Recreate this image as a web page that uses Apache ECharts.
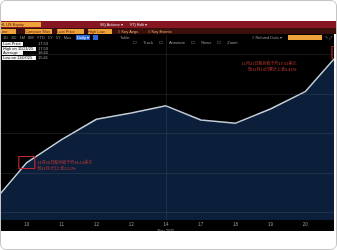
<!DOCTYPE html>
<html><head><meta charset="utf-8">
<script src="https://cdn.jsdelivr.net/npm/echarts@6/dist/echarts.min.js"></script>
<style>
html,body{margin:0;padding:0;background:#fff;width:337px;height:250px;overflow:hidden;font-family:"Liberation Sans",Arial,sans-serif;}
.a{position:absolute;white-space:nowrap;line-height:1;}
#wrap{position:absolute;left:0;top:0;width:334px;height:231px;overflow:hidden;}
#chart{width:337px;height:250px;}
.ob{background:#eda23a;color:#5a1a10;font-size:4px;padding-top:1px;box-sizing:border-box;height:5px;}
.wt{color:#e8e0e0;font-size:4px;}
.gt{color:#9a9a9a;font-size:4px;}
.lg{background:#f2f2f2;color:#111;font-size:4px;height:4px;padding-left:1px;box-sizing:border-box;}
.lv{color:#a8a8a8;font-size:4px;}
#frame{position:absolute;left:0;top:0;width:337px;height:250px;border:1px solid #c4c4c4;border-radius:6px;box-sizing:border-box;pointer-events:none;}
</style></head>
<body>
<div id="wrap"><div id="chart"></div></div>

<div class="a" style="left:0;top:0;width:337px;height:21px;background:#fff;"></div>
<div class="a" style="left:0;top:21px;width:337px;height:7px;background:#861622;"></div>
<div class="a" style="left:0;top:28px;width:337px;height:6px;background:#3a0f0c;"></div>
<div class="a ob" style="left:0;top:22px;width:41px;">HL US Equity</div>
<div class="a wt" style="left:100px;top:23px;">96) Actions ▾</div>
<div class="a wt" style="left:130px;top:23px;">97) Edit ▾</div>

<div class="a ob" style="left:0;top:29px;width:16px;">Line</div>
<div class="a ob" style="left:25px;top:29px;width:27px;">Compare Mov</div>
<div class="a ob" style="left:57px;top:29px;width:27px;">Last Price</div>
<div class="a ob" style="left:88px;top:29px;width:24px;">High Low</div>
<div class="a wt" style="left:118px;top:30px;color:#e0b070;">≡ Key Avgs</div>
<div class="a wt" style="left:148px;top:30px;color:#e0b070;">≡ Key Events</div>

<div class="a gt" style="left:3px;top:35.5px;word-spacing:2px;">1D 3D 1M 6M YTD 1Y 5Y Max</div>
<div class="a" style="left:76px;top:35px;width:14px;height:5px;background:#2f6bd8;color:#fff;font-size:4px;padding:1px 0 0 1px;box-sizing:border-box;">Daily ▾</div>
<div class="a" style="left:93px;top:35px;width:5px;height:5px;background:#2f6bd8;"></div>
<div class="a gt" style="left:120px;top:35.5px;">Table</div>
<div class="a gt" style="left:252px;top:35.5px;">≡ Related Data ▾</div>
<div class="a" style="left:288px;top:35px;width:34px;height:5px;background:#eda23a;"></div>
<div class="a gt" style="left:325px;top:35.5px;">✎ ⤢</div>
<div class="a gt" style="left:133px;top:41px;word-spacing:5px;">☐ Track ☐ Annotate ☐ News ☐ Zoom</div>

<div class="a lg" style="left:2px;top:42px;width:21px;">Last Price</div>
<div class="a lg" style="left:2px;top:46.5px;width:34px;">High on 11/21/25</div>
<div class="a lg" style="left:2px;top:51px;width:21px;">Average</div>
<div class="a lg" style="left:2px;top:56px;width:34px;">Low on 11/07/25</div>
<div class="a lv" style="left:38px;top:42px;">17.53</div>
<div class="a lv" style="left:38px;top:46.5px;">17.53</div>
<div class="a lv" style="left:38px;top:51px;">16.65</div>
<div class="a lv" style="left:38px;top:56px;">15.61</div>

<div id="frame"></div>

<script>
const categories = ['7','10','11','12','13','14','17','18','19','20','21'];
const prices = [15.61,16.13,16.42,16.68,16.76,16.85,16.67,16.63,16.81,17.03,17.53];
const gridValues = [15.5,16,16.5,17,17.5];
const weekLine = '14';
const axisTitle = 'Nov 2025';
const notes = [
  {at:'10', value:16.13, text:'11月10日股价收于约16.13美元\n较11月7日上涨3.33%'},
  {at:'21', value:17.53, text:'11月21日股价收于约17.53美元\n较11月18日累计上涨5.41%'}
];

const chart = echarts.init(document.getElementById('chart'), null, {renderer:'canvas'});
chart.setOption({
  animation:false,
  backgroundColor:'#000',
  grid:{left:-8,right:-3,top:35,bottom:30,containLabel:false,outerBoundsMode:'none'},
  xAxis:{
    type:'category', data:categories, boundaryGap:false,
    axisLine:{show:false}, axisTick:{show:false},
    axisLabel:{color:'#9a9a9a',fontSize:4.5,margin:2,interval:0,fontFamily:'Liberation Sans',hideOverlap:false},
    name:axisTitle, nameLocation:'middle', nameGap:9, nameMoveOverlap:false,
    nameTextStyle:{color:'#a0a0a0',fontSize:4,fontFamily:'Liberation Sans'},
    splitLine:{show:false}
  },
  yAxis:{type:'value',min:15.4,max:17.75,show:false,splitLine:{show:false}},
  series:[{
    type:'line', data:prices, symbol:'none',
    lineStyle:{color:'#c3ccd6',width:1.5},
    areaStyle:{color:'#0b1f3a',opacity:1},
    markLine:{
      silent:true, symbol:'none', label:{show:false},
      lineStyle:{color:'rgba(110,125,140,0.28)',width:0.7,type:'solid'},
      data:gridValues.map(v=>({yAxis:v})).concat([{xAxis:weekLine}])
    },
    markPoint:{
      silent:true, symbol:'rect', symbolSize:[16,12],
      itemStyle:{color:'rgba(0,0,0,0)',borderColor:'#c4262b',borderWidth:1},
      data:[
        {coord:[notes[0].at,notes[0].value],
         label:{show:true,position:'right',distance:2,offset:[0,3],formatter:notes[0].text,
                color:'#d23a34',fontSize:4,lineHeight:6,fontFamily:'Noto Sans CJK SC'}},
        {coord:[notes[1].at,notes[1].value],
         label:{show:true,position:'left',distance:3,offset:[-32,14],formatter:notes[1].text,
                color:'#d23a34',fontSize:4,lineHeight:6,fontFamily:'Noto Sans CJK SC'}}
      ]
    }
  }]
});
</script>
</body></html>
